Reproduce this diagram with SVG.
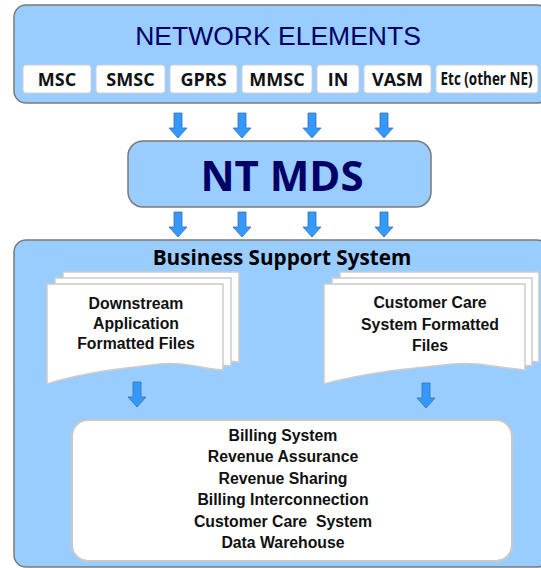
<svg xmlns="http://www.w3.org/2000/svg" width="541" height="568" viewBox="0 0 541 568">
<defs>
<style>
.panel{fill:#99ccff;stroke:#7a7a7a;stroke-width:1.5}
.el{fill:#ffffff;stroke:#d0d0d0;stroke-width:1}
.eltxt{font-family:"Open Sans","DejaVu Sans",sans-serif;font-weight:bold;font-size:18px;fill:#111;text-anchor:middle}
.arrow{fill:#3399ff;stroke:#3a6ea5;stroke-width:0.8}
.page{fill:#ffffff;stroke:#cccccc;stroke-width:1.5}
.doctxt{font-family:"Liberation Sans",Arial,sans-serif;font-weight:bold;font-size:15.8px;fill:#111;text-anchor:middle}
</style>
<path id="arr" d="M-4,0 h8 v15 h5 l-9,10 l-9,-10 h5 z"/>
</defs>

<g id="network-elements">
<rect class="panel" x="14" y="5" width="535" height="98" rx="12"/>
<text x="278" y="45" font-family="Liberation Sans, Arial, sans-serif" font-size="26.5" fill="#000066" text-anchor="middle">NETWORK ELEMENTS</text>
<g id="ne-msc"><rect class="el" x="23" y="65" width="68" height="28" rx="3"/><text class="eltxt" x="57" y="85.5">MSC</text></g>
<g id="ne-smsc"><rect class="el" x="96" y="65" width="69" height="28" rx="3"/><text class="eltxt" x="130.5" y="85.5">SMSC</text></g>
<g id="ne-gprs"><rect class="el" x="170" y="65" width="67" height="28" rx="3"/><text class="eltxt" x="203.5" y="85.5">GPRS</text></g>
<g id="ne-mmsc"><rect class="el" x="242" y="65" width="70" height="28" rx="3"/><text class="eltxt" x="277" y="85.5">MMSC</text></g>
<g id="ne-in"><rect class="el" x="317" y="65" width="42" height="28" rx="3"/><text class="eltxt" x="338" y="85.5">IN</text></g>
<g id="ne-vasm"><rect class="el" x="364" y="65" width="67" height="28" rx="3"/><text class="eltxt" x="397.5" y="85.5">VASM</text></g>
<g id="ne-etc"><rect class="el" x="436" y="65" width="102" height="28" rx="3"/><text class="eltxt" x="486.5" y="84.5" font-size="13" textLength="92" lengthAdjust="spacingAndGlyphs">Etc (other NE)</text></g>
</g>

<g id="nt-mds">
<rect class="panel" x="128" y="141" width="303" height="66" rx="15"/>
<text x="282" y="191" font-family="Open Sans, DejaVu Sans, sans-serif" font-weight="bold" font-size="42" fill="#000066" text-anchor="middle">NT MDS</text>
</g>

<g id="bss">
<rect class="panel" x="14" y="240" width="535" height="327" rx="12"/>
<text x="282" y="265" font-family="Open Sans, DejaVu Sans, sans-serif" font-weight="bold" font-size="20.7" fill="#000" text-anchor="middle">Business Support System</text>
</g>

<g id="downstream-files">
<path class="page" d="M63,272 H239 V362 C210,360 200,352 175,356 C140,362 100,362 63,370 Z"/>
<path class="page" d="M55,278 H231 V366 C202,364 192,356 167,360 C132,366 92,368 55,376 Z"/>
<path class="page" d="M47,284 H223 V370 C194,367 184,362 160,364 C125,368 85,372 47,384 Z"/>
<text class="doctxt" x="136" y="309">Downstream</text>
<text class="doctxt" x="136" y="329">Application</text>
<text class="doctxt" x="136" y="349">Formatted Files</text>
</g>

<g id="customer-care-files">
<path class="page" d="M340,272 H539 V362 C506,360 495,352 467,356 C427,362 382,362 340,370 Z"/>
<path class="page" d="M332,278 H532 V366 C499,364 488,356 460,360 C420,366 375,368 332,376 Z"/>
<path class="page" d="M324,284 H525 V370 C492,367 481,362 453,364 C413,368 368,372 324,384 Z"/>
<text class="doctxt" x="430" y="308">Customer Care</text>
<text class="doctxt" x="430" y="330">System Formatted</text>
<text class="doctxt" x="430" y="351">Files</text>
</g>

<g id="target-systems">
<rect x="72" y="420" width="440" height="141" rx="16" fill="#ffffff" stroke="#c8c8c8" stroke-width="2"/>
<text class="doctxt" x="283" y="441">Billing System</text>
<text class="doctxt" x="283" y="462">Revenue Assurance</text>
<text class="doctxt" x="283" y="483.5">Revenue Sharing</text>
<text class="doctxt" x="283" y="505">Billing Interconnection</text>
<text class="doctxt" x="283" y="526.5" xml:space="preserve">Customer Care  System</text>
<text class="doctxt" x="283" y="548">Data Warehouse</text>
</g>

<g id="connectors">
<use href="#arr" class="arrow" x="178" y="113"/>
<use href="#arr" class="arrow" x="242" y="113"/>
<use href="#arr" class="arrow" x="312" y="113"/>
<use href="#arr" class="arrow" x="384" y="113"/>
<use href="#arr" class="arrow" x="178" y="212"/>
<use href="#arr" class="arrow" x="242" y="212"/>
<use href="#arr" class="arrow" x="312" y="212"/>
<use href="#arr" class="arrow" x="384" y="212"/>
<use href="#arr" class="arrow" x="137" y="382"/>
<use href="#arr" class="arrow" x="426" y="383"/>
</g>
</svg>
